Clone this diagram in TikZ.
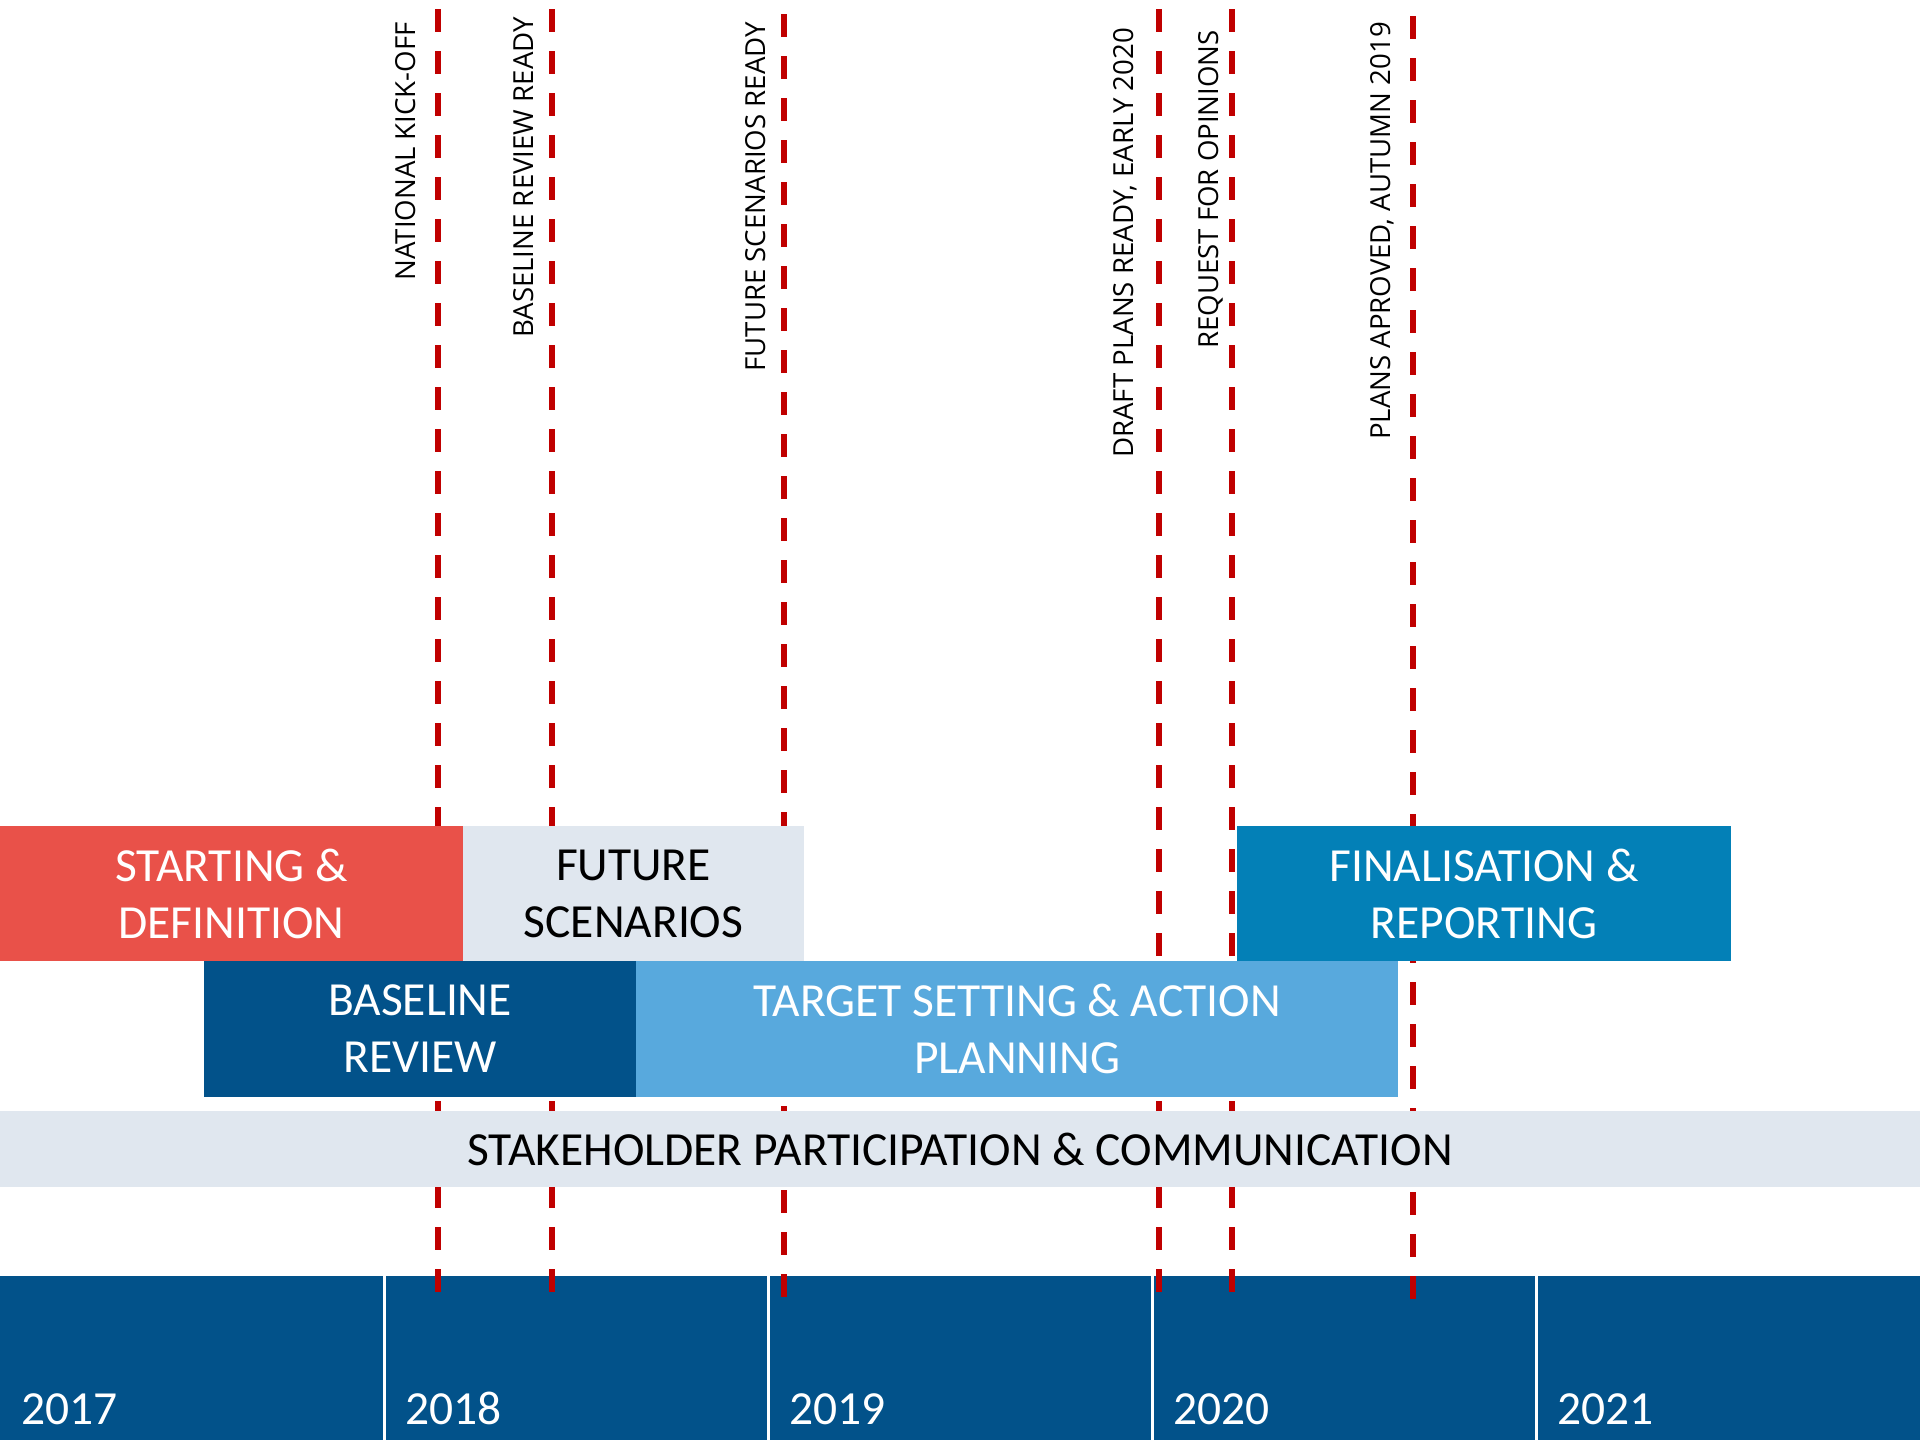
\documentclass[tikz,border=0pt]{standalone}
\usepackage{fontspec}
\setmainfont{Carlito}
\newfontfamily\labfont{Open Sans}
\definecolor{redc}{HTML}{E95149}
\definecolor{paleg}{HTML}{E0E7EF}
\definecolor{navy}{HTML}{02528A}
\definecolor{skyb}{HTML}{58A9DD}
\definecolor{midb}{HTML}{0380B7}
\definecolor{dashred}{HTML}{C00000}
\tikzset{
  phase/.style={draw=none, inner sep=0pt, align=center, font=\fontsize{47.5}{57}\selectfont},
  yearcell/.style={fill=navy, draw=none, inner sep=0pt, minimum height=164pt},
  yearlab/.style={anchor=base west, inner sep=0pt, text=white, font=\fontsize{47.5}{57}\selectfont},
  mlabel/.style={anchor=base east, rotate=90, inner sep=0pt, font=\labfont\fontsize{27.6}{30}\selectfont},
  milestone/.style={draw=dashred, line width=6pt, dash pattern=on 23pt off 19pt}
}
\begin{document}
\begin{tikzpicture}[x=1pt,y=-1pt]
\useasboundingbox (0,0) rectangle (1920,1440);
\fill[white] (0,0) rectangle (1920,1440);

% year bar
\node[yearcell, minimum width=383pt, anchor=north west] (c2017) at (0,1276) {};
\node[yearcell, minimum width=381pt, anchor=north west] (c2018) at (386,1276) {};
\node[yearcell, minimum width=381pt, anchor=north west] (c2019) at (770,1276) {};
\node[yearcell, minimum width=381pt, anchor=north west] (c2020) at (1154,1276) {};
\node[yearcell, minimum width=382pt, anchor=north west] (c2021) at (1538,1276) {};
\node[yearlab] (l2017) at (21,1424) {2017};
\node[yearlab] (l2018) at (405,1424) {2018};
\node[yearlab] (l2019) at (789,1424) {2019};
\node[yearlab] (l2020) at (1173,1424) {2020};
\node[yearlab] (l2021) at (1557,1424) {2021};

% milestone lines
\coordinate (m1t) at (438,9);   \coordinate (m1b) at (438,1292);
\coordinate (m2t) at (552,9);   \coordinate (m2b) at (552,1292);
\coordinate (m3t) at (784,14);  \coordinate (m3b) at (784,1298);
\coordinate (m4t) at (1159,9);  \coordinate (m4b) at (1159,1292);
\coordinate (m5t) at (1232,9);  \coordinate (m5b) at (1232,1292);
\coordinate (m6t) at (1413,16); \coordinate (m6b) at (1413,1300);
\draw[milestone] (m1t) -- (m1b);
\draw[milestone] (m2t) -- (m2b);
\draw[milestone] (m3t) -- (m3b);
\draw[milestone] (m4t) -- (m4b);
\draw[milestone] (m5t) -- (m5b);
\draw[milestone] (m6t) -- (m6b);

% milestone labels
\node[mlabel] (t1) at (415,22) {NATIONAL KICK-OFF};
\node[mlabel] (t2) at (533,17) {BASELINE REVIEW READY};
\node[mlabel] (t3) at (765,22) {FUTURE SCENARIOS READY};
\node[mlabel] (t4) at (1133,28) {DRAFT PLANS READY, EARLY 2020};
\node[mlabel] (t5) at (1218,30) {REQUEST FOR OPINIONS};
\node[mlabel] (t6) at (1390,22) {PLANS APROVED, AUTUMN 2019};

% phases
\node[phase, fill=redc, text=white, minimum width=463pt, minimum height=135pt] (start) at (231.5,893.5) {STARTING \&\\DEFINITION};
\node[phase, fill=paleg, text=black, minimum width=341pt, minimum height=135pt] (future) at (633.5,893.5) {FUTURE\\SCENARIOS};
\node[phase, fill=midb, text=white, minimum width=494pt, minimum height=135pt] (final) at (1484,893.5) {FINALISATION \&\\REPORTING};
\node[phase, fill=navy, text=white, minimum width=432pt, minimum height=136pt] (base) at (420,1029) {BASELINE\\REVIEW};
\node[phase, fill=skyb, text=white, minimum width=762pt, minimum height=136pt] (target) at (1017,1029) {TARGET SETTING \& ACTION\\PLANNING};
\node[phase, fill=paleg, text=black, minimum width=1920pt, minimum height=76pt] (stake) at (960,1149) {STAKEHOLDER PARTICIPATION \& COMMUNICATION};
\end{tikzpicture}
\end{document}
